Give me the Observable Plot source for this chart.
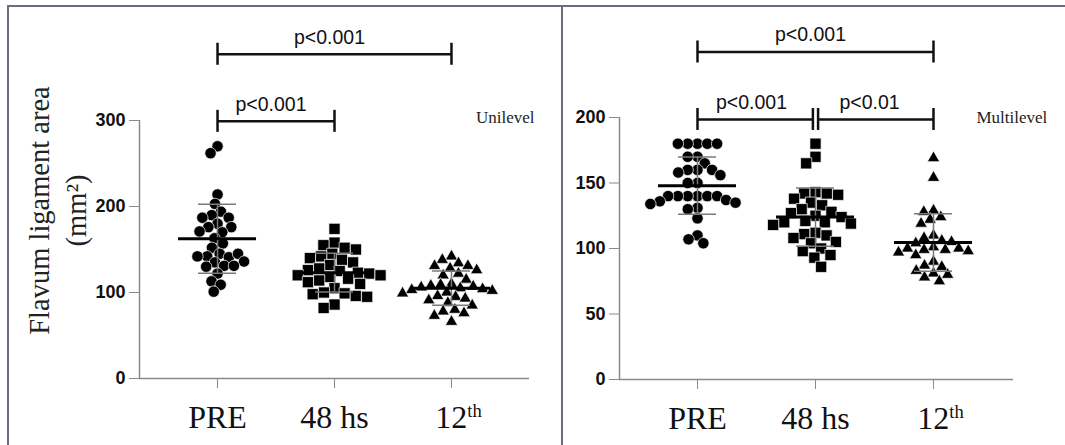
<!DOCTYPE html>
<html><head><meta charset="utf-8">
<script src="https://cdn.jsdelivr.net/npm/d3@7"></script>
<script src="https://cdn.jsdelivr.net/npm/@observablehq/plot@0.6"></script>
<style>
body{margin:0;background:#fff;}
#wrap{position:relative;width:1065px;height:445px;overflow:hidden;background:#fff;}
.panel{position:absolute;top:0;}
.line{position:absolute;background:#6c6c7c;}
</style></head><body>
<div id="wrap">
  <div id="left" class="panel" style="left:0;width:560px;height:445px"></div>
  <div id="right" class="panel" style="left:540px;width:525px;height:445px"></div>
  <div class="line" style="left:7px;top:5px;width:1058px;height:2px"></div>
  <div class="line" style="left:7px;top:5px;width:2px;height:440px"></div>
  <div class="line" style="left:561px;top:5px;width:2px;height:440px"></div>
</div>
<script>
// ---- data ----
const groups = ["PRE", "48 hs", "12th"];
const uniPre = [270, 262, 214, 203, 194, 190, 187, 187, 180, 176, 176, 170, 171, 163, 157, 152, 145, 142, 141, 142, 145, 136, 135, 131, 130, 131, 122, 113, 109, 101];
const uni48 = [174, 158, 155, 152, 150, 145, 142, 140, 138, 135, 132, 128, 126, 125, 123, 122, 120, 120, 118, 116, 114, 112, 110, 105, 100, 99, 98, 96, 95, 86, 82];
const uni12 = [142, 138, 134, 131, 131, 128, 126, 122, 120, 115, 110, 109, 108, 107, 106, 105, 104, 103, 102, 100, 99, 96, 95, 93, 91, 88, 85, 80, 78, 76, 73, 66];
const multiPre = [180, 180, 180, 180, 180, 170, 170, 165, 160, 160, 160, 158, 156, 150, 150, 140, 140, 140, 140, 140, 140, 137, 136, 135, 134, 131, 130, 123, 110, 107, 104];
const multi48 = [180, 170, 165, 143, 142, 142, 141, 138, 135, 133, 130, 128, 127, 125, 124, 121, 120, 120, 119, 118, 112, 111, 110, 108, 105, 104, 100, 98, 95, 93, 86];
const multi12 = [169, 154, 129, 128, 124, 122, 119, 110, 108, 106, 105, 104, 101, 100, 100, 99, 99, 98, 97, 95, 90, 87, 86, 83, 81, 80, 78, 75];
const uniTicks = [0, 100, 200, 300];
const multiTicks = [0, 50, 100, 150, 200];
const uniBrackets = [
  {from: 0, to: 2, level: 377, label: "p<0.001"},
  {from: 0, to: 1, level: 299, label: "p<0.001"}
];
const multiBrackets = [
  {from: 0, to: 2, level: 250, label: "p<0.001"},
  {from: 0, to: 1, level: 198.5, label: "p<0.001"},
  {from: 1, to: 2, level: 198.5, label: "p<0.01"}
];
const yTitle = "Flavum ligament area\n(mm²)";

// ---- drawing ----
const SERIF = "'Liberation Serif', 'Times New Roman', serif";
const SANS = "'Liberation Sans', Arial, sans-serif";
const symbols = ["circle", "square", "triangle"];
const sizes = [5.7, 6.3, 4.6];
const pads = [-1.6, -1.2, 0.6];

function panel(el, cfg) {
  const {width, height, mL, mR, mT, mB, xDomain, yDomain, ticks, values, brackets, tag, tagAnchor, tagDx, tagDy, title} = cfg;
  const xs = Plot.scale({x: {domain: xDomain, range: [mL, width - mR]}});
  const cx = (mL + width - mR) / 2;
  const stats = values.map((v, i) => ({i, mean: d3.mean(v), sd: d3.deviation(v)}));
  const gap = 0.022;
  const shared = (b, k) => brackets.some(o => o !== b && o.level === b.level && (o.from === k || o.to === k));
  const br = brackets.map(b => ({...b,
    x1: b.from + (shared(b, b.from) ? gap : 0),
    x2: b.to - (shared(b, b.to) ? gap : 0)}));
  const caps = br.flatMap(b => [{x: b.x1, y: b.level}, {x: b.x2, y: b.level}]);
  const marks = [
    Plot.ruleY([yDomain[0]], {stroke: "#8a8a8a", strokeWidth: 1.5}),
    Plot.ruleX([xDomain[0]], {stroke: "#8a8a8a", strokeWidth: 1.5}),
    Plot.axisY({ticks, tickSize: 10, tickPadding: 4, fontSize: 18, fontWeight: "bold", fontFamily: SANS, stroke: "#8a8a8a", fill: "#111", label: null}),
    Plot.axisX({ticks: [0, 1, 2], tickFormat: i => groups[i], tickSize: 10, tickPadding: 17, fontSize: 32, fontFamily: SERIF, stroke: "#8a8a8a", fill: "#111", label: null}),
    ...values.map((v, i) => Plot.dot(v, Plot.dodgeX({anchor: "middle", padding: pads[i]},
      {y: d => d, r: sizes[i], symbol: symbols[i], fill: "#000", stroke: "#fff", strokeWidth: 0.7, dx: xs.apply(i) - cx}))),
    Plot.ruleX(stats, {x: "i", y1: d => d.mean - d.sd, y2: d => d.mean + d.sd, stroke: "#7a7a7a", strokeWidth: 1.5}),
    Plot.ruleY(stats, {y: d => d.mean - d.sd, x1: "i", x2: "i", insetLeft: -19, insetRight: -19, stroke: "#7a7a7a", strokeWidth: 1.5}),
    Plot.ruleY(stats, {y: d => d.mean + d.sd, x1: "i", x2: "i", insetLeft: -19, insetRight: -19, stroke: "#7a7a7a", strokeWidth: 1.5}),
    Plot.ruleY(stats, {y: "mean", x1: "i", x2: "i", insetLeft: -39, insetRight: -39, stroke: "#000", strokeWidth: 3}),
    Plot.ruleY(br, {y: "level", x1: "x1", x2: "x2", stroke: "#111", strokeWidth: 2.5}),
    Plot.ruleX(caps, {x: "x", y1: "y", y2: "y", insetTop: -11, insetBottom: -11, stroke: "#111", strokeWidth: 2.5}),
    Plot.text(br, {x: d => (d.from + d.to) / 2, y: "level", text: "label", dy: -17, dx: -5, fontSize: 19.5, fontFamily: SANS, fill: "#111"}),
    Plot.text([tag], {text: d => d, frameAnchor: "top-right", textAnchor: tagAnchor, dx: tagDx, dy: tagDy, fontSize: 17, fontFamily: SERIF, fill: "#222"})
  ];
  if (title) marks.push(Plot.text([title], {text: d => d, frameAnchor: "left", textAnchor: "middle", lineAnchor: "middle", rotate: -90, dx: -84, dy: -39, fontSize: 28.5, lineHeight: 1.3, fontFamily: SERIF, fill: "#222"}));
  const svg = Plot.plot({
    width, height, marginLeft: mL, marginRight: mR, marginTop: mT, marginBottom: mB,
    x: {domain: xDomain},
    y: {domain: yDomain},
    style: {background: "transparent", overflow: "visible"},
    marks
  });
  el.appendChild(svg);
  svg.querySelectorAll("text").forEach(t => {
    if (t.textContent === "12th" && t.children.length === 0) {
      t.textContent = "12";
      const ts = document.createElementNS("http://www.w3.org/2000/svg", "tspan");
      ts.setAttribute("font-size", "0.58em");
      ts.setAttribute("dy", "-0.6em");
      ts.textContent = "th";
      t.appendChild(ts);
      t.setAttribute("dx", "7");
    }
  });
}

panel(document.getElementById("left"), {
  width: 560, height: 445, mL: 139, mR: 31, mT: 120, mB: 67,
  xDomain: [-0.667, 2.667], yDomain: [0, 300], ticks: uniTicks,
  values: [uniPre, uni48, uni12], brackets: uniBrackets,
  tag: "Unilevel", tagAnchor: "end", tagDx: 5, tagDy: -10, title: yTitle
});
panel(document.getElementById("right"), {
  width: 525, height: 445, mL: 79, mR: 52, mT: 117, mB: 66,
  xDomain: [-0.661, 2.678], yDomain: [0, 200], ticks: multiTicks,
  values: [multiPre, multi48, multi12], brackets: multiBrackets,
  tag: "Multilevel", tagAnchor: "start", tagDx: -37, tagDy: -7, title: null
});
</script>
</body></html>
